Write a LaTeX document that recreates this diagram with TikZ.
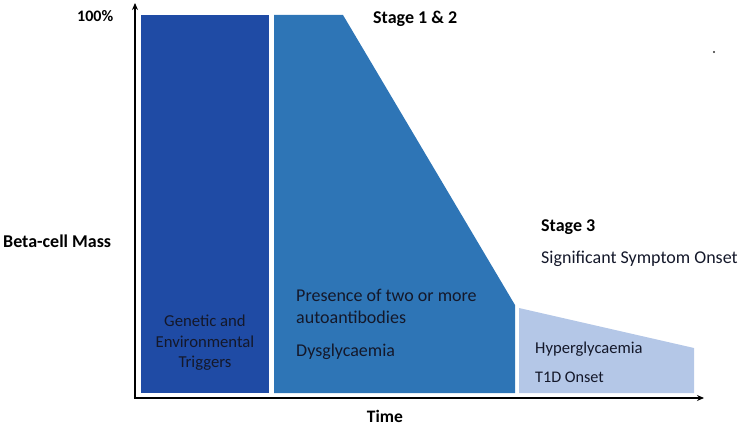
\documentclass[tikz,border=0pt]{standalone}
\usepackage{fontspec}
\setmainfont{Carlito}
\usetikzlibrary{arrows.meta}
\definecolor{cA}{HTML}{1F4BA5}
\definecolor{cB}{HTML}{2E75B6}
\definecolor{cC}{HTML}{B4C7E7}
\definecolor{txt}{HTML}{14182A}
\begin{document}
\begin{tikzpicture}[x=1pt,y=-1pt,
  lbl/.style={inner sep=0pt,font=\fontsize{18}{21}\selectfont\bfseries},
  body/.style={inner sep=0pt,font=\fontsize{18}{21}\selectfont,text=txt},
  axis/.style={line width=2.4pt,-{Stealth[length=7pt,width=6pt]}}]
\useasboundingbox (0,0) rectangle (745,428);
\fill[cA] (141,15) rectangle (269,393);
\fill[cB] (274,15) -- (343,15) -- (515,305) -- (515,393) -- (274,393) -- cycle;
\fill[cC] (519,308) -- (694,348) -- (694,393) -- (519,393) -- cycle;
\coordinate (o) at (135,398);
\coordinate (ytop) at (135,3);
\coordinate (xend) at (704,398);
\draw[axis] (o) -- (ytop);
\draw[axis] ([xshift=-1.2pt]o) -- (xend);
\node[lbl,anchor=base west,font=\fontsize{16}{19}\selectfont\bfseries] (p100) at (77,22) {100\%};
\node[lbl,anchor=base west] (s12) at (373,24) {Stage 1 \& 2};
\node[lbl,anchor=base west] (bcm) at (3,247) {Beta-cell Mass};
\node[lbl,anchor=base west] (s3) at (541,231) {Stage 3};
\node[body,anchor=base west] (sso) at (541,263) {Significant Symptom Onset};
\node[body,anchor=base west] (pr1) at (296,301) {Presence of two or more};
\node[body,anchor=base west] (pr2) at (296,323) {autoantibodies};
\node[body,anchor=base west] (dys) at (296,356) {Dysglycaemia};
\node[body,anchor=base,font=\fontsize{16.7}{20}\selectfont] (g1) at (205,326) {Genetic and};
\node[body,anchor=base,font=\fontsize{16.7}{20}\selectfont] (g2) at (205,347) {Environmental};
\node[body,anchor=base,font=\fontsize{16.7}{20}\selectfont] (g3) at (205,367) {Triggers};
\node[body,anchor=base west,font=\fontsize{16.6}{19}\selectfont] (hyp) at (535,353) {Hyperglycaemia};
\node[body,anchor=base west,font=\fontsize{16.2}{19}\selectfont] (t1d) at (535,382) {T1D Onset};
\node[lbl,anchor=base,font=\fontsize{17.5}{20}\selectfont\bfseries] (time) at (385,422) {Time};
\fill[black!80] (714,52) circle (1.2pt);
\end{tikzpicture}
\end{document}
